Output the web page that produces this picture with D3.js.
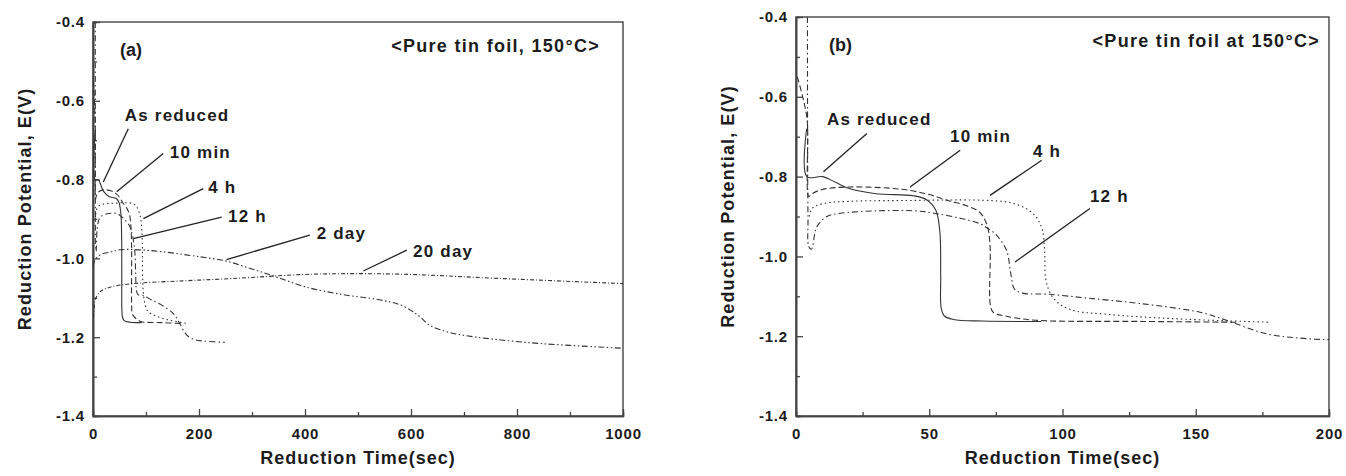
<!DOCTYPE html>
<html>
<head>
<meta charset="utf-8">
<script src="https://cdn.jsdelivr.net/npm/d3@7"></script>
<style>
  body { margin: 0; background: #fff; }
  text { font-family: Arial, "Liberation Sans", sans-serif; font-weight: bold; fill: #1c1c1c; }
</style>
</head>
<body>
<div id="chart"></div>
<script>
// reduction curves, [time (s), potential (V)]
var asReduced = [[4,-0.68],[4.05,-0.80],[10,-0.80],[15,-0.815],[20,-0.83],[30,-0.843],[44,-0.848],[49,-0.858],[52.5,-0.885],[54,-0.94],[54.3,-1.05],[54.5,-1.13],[55.8,-1.15],[59,-1.158],[70,-1.162],[92,-1.163]];
var tenMin = [[0.5,-0.55],[2.5,-0.6],[4.2,-0.66],[4.8,-0.85],[6,-0.843],[10,-0.832],[20,-0.826],[35,-0.829],[43,-0.835],[50,-0.845],[57,-0.86],[64,-0.873],[69,-0.89],[71.6,-0.92],[72.8,-0.97],[72.9,-1.12],[74,-1.14],[79,-1.15],[90,-1.16],[130,-1.163],[165,-1.165]];
var fourH = [[5,-0.9],[6,-0.88],[10,-0.868],[20,-0.862],[40,-0.86],[72.8,-0.86],[82,-0.868],[89,-0.893],[92.3,-0.93],[93.3,-0.99],[93.8,-1.06],[96.6,-1.105],[102.8,-1.133],[116.6,-1.145],[141.5,-1.156],[177.8,-1.165]];
var twelveH = [[4.3,-0.40],[4.5,-0.90],[4.8,-0.975],[5.8,-0.982],[7.8,-0.926],[11.6,-0.90],[16.6,-0.892],[30,-0.886],[45,-0.886],[52.8,-0.893],[62,-0.905],[69,-0.918],[72,-0.93],[75,-0.945],[79,-0.985],[80.6,-1.043],[82,-1.082],[85,-1.092],[95,-1.095],[110,-1.105],[129,-1.118],[151.6,-1.14],[161.5,-1.16],[176.5,-1.194],[191.5,-1.206],[210,-1.21],[249,-1.213]];
var twoDay = [[0.5,-1.02],[4,-1.003],[15,-0.99],[32,-0.984],[51,-0.978],[107,-0.98],[202,-0.996],[252,-1.007],[300,-1.027],[346,-1.047],[400,-1.072],[472,-1.092],[540,-1.105],[580,-1.118],[611,-1.142],[636,-1.170],[667,-1.186],[698,-1.195],[824,-1.214],[1000,-1.228]];
var twentyDay = [[0.5,-1.15],[2,-1.13],[4,-1.106],[13,-1.085],[32,-1.073],[76,-1.064],[170,-1.057],[265,-1.051],[416,-1.040],[579,-1.040],[768,-1.051],[1000,-1.064]];

// ticks
var yTicks = [-1.4, -1.2, -1.0, -0.8, -0.6, -0.4];
var yTickLabels = ["-1.4", "-1.2", "-1.0", "-0.8", "-0.6", "-0.4"];
var yMinor = [-1.3, -1.1, -0.9, -0.7, -0.5];
var xTicksA = [0, 200, 400, 600, 800, 1000];
var xTickLabelsA = ["0", "200", "400", "600", "800", "1000"];
var xMinorA = [100, 300, 500, 700, 900];
var xTicksB = [0, 50, 100, 150, 200];
var xTickLabelsB = ["0", "50", "100", "150", "200"];
var xMinorB = [25, 75, 125, 175];

// labels pointing at curves: text position and leader line, in data units
var notesA = [
  {text: "As reduced", tx: 60, ty: -0.651, x1: 66.6, y1: -0.671, x2: 19.4, y2: -0.806},
  {text: "10 min", tx: 145, ty: -0.746, x1: 132.6, y1: -0.734, x2: 44.7, y2: -0.831},
  {text: "4 h", tx: 217.5, ty: -0.834, x1: 208, y1: -0.823, x2: 95, y2: -0.899},
  {text: "12 h", tx: 254.7, ty: -0.908, x1: 242.8, y1: -0.895, x2: 76, y2: -0.950},
  {text: "2 day", tx: 422, ty: -0.952, x1: 409, y1: -0.941, x2: 252, y2: -1.003},
  {text: "20 day", tx: 604, ty: -0.996, x1: 592, y1: -0.979, x2: 510, y2: -1.032}
];
var notesB = [
  {text: "As reduced", tx: 11.6, ty: -0.671, x1: 26.6, y1: -0.692, x2: 10.3, y2: -0.788},
  {text: "10 min", tx: 57.8, ty: -0.713, x1: 61.6, y1: -0.734, x2: 42.8, y2: -0.826},
  {text: "4 h", tx: 88.9, ty: -0.751, x1: 92.2, y1: -0.759, x2: 72.8, y2: -0.847},
  {text: "12 h", tx: 110.3, ty: -0.864, x1: 110.3, y1: -0.880, x2: 82.2, y2: -1.014}
];

var dashes = {
  asReduced: null,
  tenMin: "6,3",
  fourH: "1.5,3",
  twelveH: "6,3,1.5,3",
  twoDay: "6,2.5,1.5,2.5,1.5,2.5",
  twentyDay: "4,2,1,2"
};

var W = 1346, H = 476;
var svg = d3.select("#chart").append("svg")
  .attr("width", W)
  .attr("height", H);

function drawPanel(p) {
  var x = d3.scaleLinear().domain(p.xDomain).range([p.left, p.right]);
  var y = d3.scaleLinear().domain([-1.4, -0.4]).range([p.bottom, p.top]);

  var g = svg.append("g");

  g.append("clipPath").attr("id", "clip-" + p.id)
    .append("rect")
    .attr("x", p.left).attr("y", p.top)
    .attr("width", p.right - p.left).attr("height", p.bottom - p.top);

  // frame
  g.append("rect")
    .attr("x", p.left).attr("y", p.top)
    .attr("width", p.right - p.left).attr("height", p.bottom - p.top)
    .attr("fill", "none").attr("stroke", "#444").attr("stroke-width", 1.4);

  // minor ticks first, then major with labels
  g.append("g").attr("transform", "translate(" + p.left + ",0)")
    .call(d3.axisLeft(y).tickValues(yMinor).tickSize(-4).tickFormat(""));
  g.append("g").attr("transform", "translate(0," + p.bottom + ")")
    .call(d3.axisBottom(x).tickValues(p.xMinor).tickSize(-4).tickFormat(""));

  var yAxis = g.append("g").attr("transform", "translate(" + p.left + ",0)")
    .call(d3.axisLeft(y).tickValues(yTicks).tickSizeInner(-7).tickSizeOuter(0).tickPadding(8)
      .tickFormat(function(d, i) { return yTickLabels[i]; }));
  var xAxis = g.append("g").attr("transform", "translate(0," + p.bottom + ")")
    .call(d3.axisBottom(x).tickValues(p.xTicks).tickSizeInner(-7).tickSizeOuter(0).tickPadding(12)
      .tickFormat(function(d, i) { return p.xLabels[i]; }));

  g.selectAll(".domain").attr("stroke", "#444").attr("stroke-width", 1.6);
  g.selectAll(".tick line").attr("stroke", "#444").attr("stroke-width", 1.3);
  [yAxis, xAxis].forEach(function(a) {
    a.attr("font-family", null).attr("font-size", null);
    a.selectAll("text")
      .style("font-size", "15px")
      .style("letter-spacing", "0.8px")
      .attr("fill", "#1c1c1c");
  });

  // curves
  var line = d3.line()
    .x(function(d) { return x(d[0]); })
    .y(function(d) { return y(d[1]); })
    .curve(d3.curveCatmullRom.alpha(0.5));

  g.append("g").attr("clip-path", "url(#clip-" + p.id + ")")
    .selectAll("path")
    .data(p.series)
    .enter()
    .append("path")
    .attr("d", function(s) { return line(s.values); })
    .attr("fill", "none")
    .attr("stroke", "#333")
    .attr("stroke-width", 1.1)
    .attr("stroke-dasharray", function(s) { return dashes[s.name]; });

  // leader lines and labels
  var notes = g.selectAll(".note").data(p.notes).enter().append("g");
  notes.append("line")
    .attr("x1", function(d) { return x(d.x1); })
    .attr("y1", function(d) { return y(d.y1); })
    .attr("x2", function(d) { return x(d.x2); })
    .attr("y2", function(d) { return y(d.y2); })
    .attr("stroke", "#222").attr("stroke-width", 1.3);
  notes.append("text")
    .attr("x", function(d) { return x(d.tx); })
    .attr("y", function(d) { return y(d.ty); })
    .style("font-size", "17px")
    .style("letter-spacing", "1.2px")
    .text(function(d) { return d.text; });

  // panel letter and condition
  g.append("text")
    .attr("x", p.left + p.letterDx).attr("y", p.top + 34)
    .style("font-size", "18px")
    .text(p.letter);
  g.append("text")
    .attr("x", p.right - p.titleDx).attr("y", p.top + 30)
    .attr("text-anchor", "end")
    .style("font-size", "18px")
    .style("letter-spacing", "1.3px")
    .text(p.title);

  // axis titles
  g.append("text")
    .attr("x", (p.left + p.right) / 2).attr("y", 464)
    .attr("text-anchor", "middle")
    .style("font-size", "18px")
    .style("letter-spacing", "1px")
    .text("Reduction Time(sec)");
  g.append("text")
    .attr("transform", "translate(" + (p.left - 62) + "," + ((p.top + p.bottom) / 2 - 10) + ") rotate(-90)")
    .attr("text-anchor", "middle")
    .style("font-size", "18px")
    .style("letter-spacing", "1.1px")
    .text("Reduction Potential, E(V)");
}

drawPanel({
  id: "a", left: 93, right: 623, top: 22, bottom: 416,
  xDomain: [0, 1000], xTicks: xTicksA, xLabels: xTickLabelsA, xMinor: xMinorA,
  series: [
    {name: "asReduced", values: asReduced},
    {name: "tenMin", values: tenMin},
    {name: "fourH", values: fourH},
    {name: "twelveH", values: twelveH},
    {name: "twoDay", values: twoDay},
    {name: "twentyDay", values: twentyDay}
  ],
  notes: notesA, letter: "(a)", letterDx: 27, titleDx: 23,
  title: "<Pure tin foil, 150°C>"
});

drawPanel({
  id: "b", left: 796, right: 1329, top: 17, bottom: 416,
  xDomain: [0, 200], xTicks: xTicksB, xLabels: xTickLabelsB, xMinor: xMinorB,
  series: [
    {name: "asReduced", values: asReduced},
    {name: "tenMin", values: tenMin},
    {name: "fourH", values: fourH},
    {name: "twelveH", values: twelveH}
  ],
  notes: notesB, letter: "(b)", letterDx: 33, titleDx: 9,
  title: "<Pure tin foil at 150°C>"
});
</script>
</body>
</html>
